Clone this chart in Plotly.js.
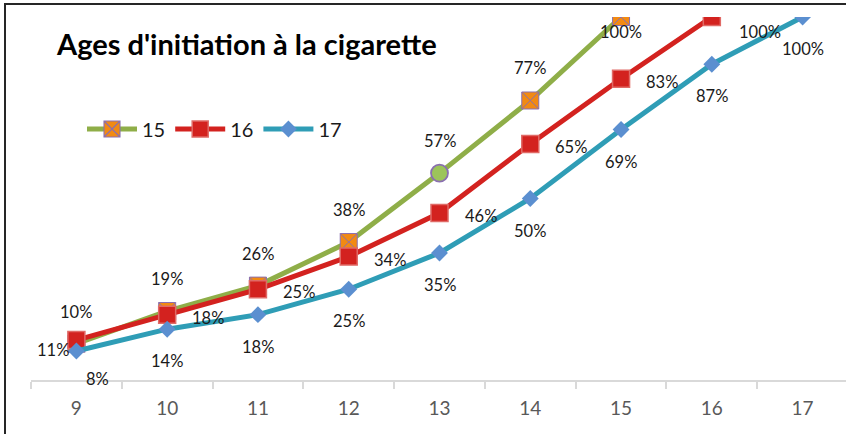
<!DOCTYPE html>
<html>
<head>
<meta charset="utf-8">
<script src="https://cdn.plot.ly/plotly-3.0.1.min.js"></script>
<style>
html,body{margin:0;padding:0;background:#fff;overflow:hidden;width:846px;height:434px;}
#wrap{position:relative;width:846px;height:434px;overflow:hidden;}
#chart{position:absolute;left:0;top:0;width:848px;height:434px;}
#frame{position:absolute;left:4px;top:3px;width:900px;height:500px;border-left:2px solid #262626;border-top:2px solid #262626;pointer-events:none;}
</style>
</head>
<body>
<div id="wrap"><div id="chart"></div><div id="frame"></div></div>
<script>
// ---- data ----
const categories = ['9','10','11','12','13','14','15','16','17'];
const seriesNames = ['15','16','17'];
const values15 = [10, 19, 26, 38, 57, 77, 100, null, null];
const values16 = [11, 18, 25, 34, 46, 65, 83, 100, null];
const values17 = [8, 14, 18, 25, 35, 50, 69, 87, 100];
const chartTitle = "Ages d'initiation à la cigarette";

// ---- styles ----
const FONT = 'Lato, "Open Sans", sans-serif';
const green = '#8FAE48', red = '#D3221F', teal = '#2F9DB6';
const orange = '#F28A12', purple = '#8A6FB0', blue = '#5B8FD0';

const t15 = {
  x: categories, y: values15, name: seriesNames[0], type: 'scatter', mode: 'lines+markers',
  line: {color: green, width: 5},
  marker: {
    symbol: values15.map((v,i)=> i===4 ? 'circle' : 'square-x'),
    color: values15.map((v,i)=> i===4 ? '#9CC45A' : orange),
    size: values15.map((v,i)=> i===4 ? 17 : 17),
    opacity: 1,
    line: {color: purple, width: values15.map((v,i)=> i===4 ? 1.8 : 1)}
  },
  cliponaxis: true, hoverinfo: 'none'
};
const t16 = {
  x: categories, y: values16, name: seriesNames[1], type: 'scatter', mode: 'lines+markers',
  line: {color: red, width: 5},
  marker: {symbol: 'square', color: red, size: 17, opacity: 1, line: {color: '#E06A66', width: 1.5}},
  cliponaxis: true, hoverinfo: 'none'
};
const t17 = {
  x: categories, y: values17, name: seriesNames[2], type: 'scatter', mode: 'lines+markers',
  line: {color: teal, width: 5},
  marker: {symbol: 'diamond', color: blue, size: 13, opacity: 1, line: {color: blue, width: 0}},
  cliponaxis: true, hoverinfo: 'none'
};

// label offsets (px) per series / point
const off15 = values15.map((v,i)=> v===100 ? [0,-15] : [0,32]);
const off16 = values16.map((v,i)=> i===0 ? [-23,-10] : (v===100 ? [48,-15] : [41,-3]));
const off17 = values17.map((v,i)=> i===0 ? [21,-28] : [0,-32]);

const annotations = [];
function addLabels(vals, offs){
  vals.forEach((v,i)=>{
    if(v===null) return;
    annotations.push({
      x: i, y: v, xref: 'x', yref: 'y', text: v + '%', showarrow: false,
      xshift: offs[i][0], yshift: offs[i][1],
      font: {family: FONT, size: 16.5, color: '#1a1a1a'}
    });
  });
}
addLabels(values15, off15);
addLabels(values16, off16);
addLabels(values17, off17);

const layout = {
  width: 848, height: 434,
  margin: {l: 31, r: 0, t: 17, b: 54, autoexpand: false},
  paper_bgcolor: '#ffffff', plot_bgcolor: '#ffffff',
  showlegend: true,
  title: {
    text: '<b>' + chartTitle + '</b>', xref: 'container', yref: 'container',
    x: 57/848, xanchor: 'left', y: 1 - 45/434, yanchor: 'middle',
    font: {family: FONT, size: 29, color: '#000'}
  },
  legend: {
    orientation: 'h', xref: 'container', yref: 'container',
    x: 82/848, xanchor: 'left', y: 1 - 129/434, yanchor: 'middle',
    font: {family: FONT, size: 20, color: '#1a1a1a'},
    itemwidth: 50, bgcolor: 'rgba(0,0,0,0)', traceorder: 'normal'
  },
  xaxis: {
    type: 'category', categoryorder: 'array', categoryarray: categories,
    range: [-0.5, categories.length - 0.5], autorange: false,
    showline: true, linecolor: '#D9D9D9', linewidth: 2,
    ticks: 'outside', tickson: 'boundaries', ticklen: 7, tickcolor: '#D9D9D9', tickwidth: 2,
    ticklabelstandoff: 10,
    showgrid: false, zeroline: false,
    tickfont: {family: FONT, size: 19, color: '#595959'},
    fixedrange: true
  },
  yaxis: {range: [0, 100], autorange: false, visible: false, showgrid: false, zeroline: false, fixedrange: true},
  annotations: annotations
};

Plotly.newPlot('chart', [t15, t16, t17], layout, {staticPlot: true, displayModeBar: false});
</script>
</body>
</html>
